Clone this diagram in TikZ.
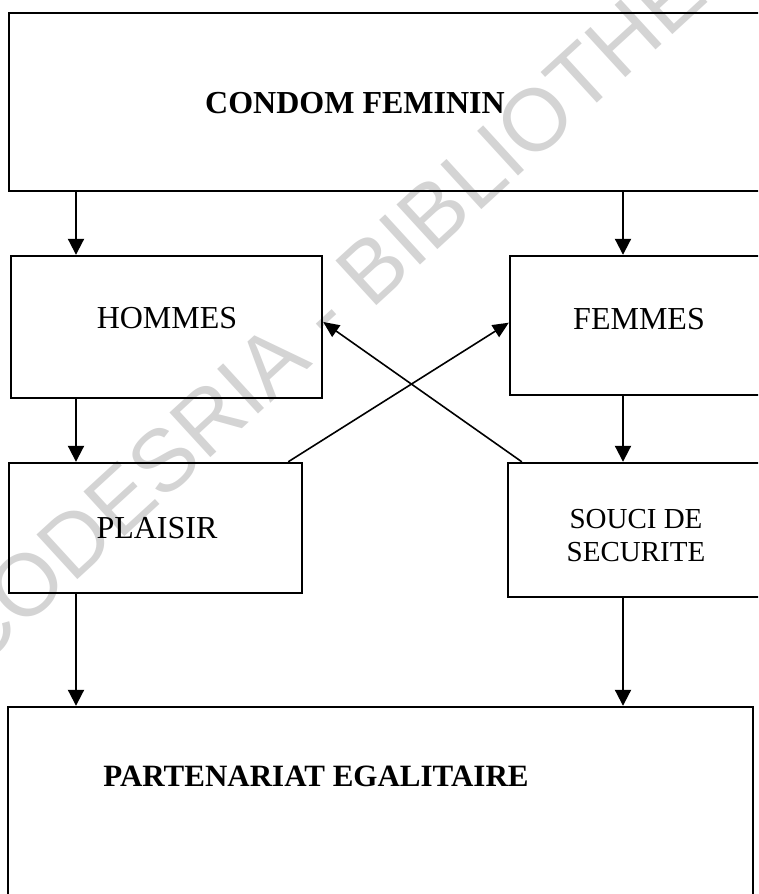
\documentclass[tikz,border=0pt]{standalone}
\usepackage{fontspec}
\setmainfont{Liberation Serif}
\newfontfamily\wmfont{Liberation Sans}
\usetikzlibrary{fit,calc,arrows.meta}
\begin{document}
\begin{tikzpicture}[x=1pt,y=-1pt,
  box/.style={draw, line width=2.4pt, inner sep=0pt},
  lbl/.style={font=\fontsize{32}{33}\selectfont, align=center, inner sep=0pt},
  slbl/.style={font=\fontsize{29}{33}\selectfont, align=center, inner sep=0pt},
  blbl/.style={font=\fontsize{32}{33}\selectfont\bfseries, align=center, inner sep=0pt},
  arr/.style={line width=2pt, -{Triangle[length=16pt,width=16pt]}},
  xarr/.style={line width=1.6pt, -{Triangle[length=16pt,width=14pt]}},
  wm/.style={font=\wmfont\fontsize{88}{88}\selectfont, text=black!17, inner sep=0pt}]
\useasboundingbox (0,0) rectangle (758,894);
\clip (0,0) rectangle (758,894);
% watermark
\node[wm, rotate=42.5] (wmark) at (398,256) {CODESRIA - BIBLIOTHEQUE};
% boxes
\node[box, fit={(9,13) (820,191)}] (top) {};
\node[box, fit={(11,256) (322,398)}] (hom) {};
\node[box, fit={(510,256) (820,395)}] (fem) {};
\node[box, fit={(9,463) (302,593)}] (pla) {};
\node[box, fit={(508,463) (820,597)}] (sou) {};
\node[box, fit={(8,707) (753,930)}] (bot) {};
% texts
\node[blbl] (ttop) at (355,103) {CONDOM FEMININ};
\node[lbl] (thom) at (167,318) {HOMMES};
\node[lbl] (tfem) at (639,319) {FEMMES};
\node[lbl] (tpla) at (157,528) {PLAISIR};
\node[slbl] (tsou) at (636,536) {SOUCI DE\\SECURITE};
\node[blbl, font=\fontsize{31}{33}\selectfont\bfseries] (tbot) at (316,776) {PARTENARIAT EGALITAIRE};
% guide columns
\coordinate (cl) at (76,0);
\coordinate (cr) at (623,0);
% vertical arrows
\draw[arr] (top.south -| cl) -- (hom.north -| cl);
\draw[arr] (top.south -| cr) -- (fem.north -| cr);
\draw[arr] (hom.south -| cl) -- (pla.north -| cl);
\draw[arr] (fem.south -| cr) -- (sou.north -| cr);
\draw[arr] (pla.south -| cl) -- (bot.north -| cl);
\draw[arr] (sou.south -| cr) -- (bot.north -| cr);
% crossing arrows
\draw[xarr] ($(pla.north east)+(-15,0)$) -- ($(fem.north west)!0.48!(fem.south west)$);
\draw[xarr] ($(sou.north west)+(15,0)$) -- ($(hom.north east)!0.465!(hom.south east)$);
\end{tikzpicture}
\end{document}
